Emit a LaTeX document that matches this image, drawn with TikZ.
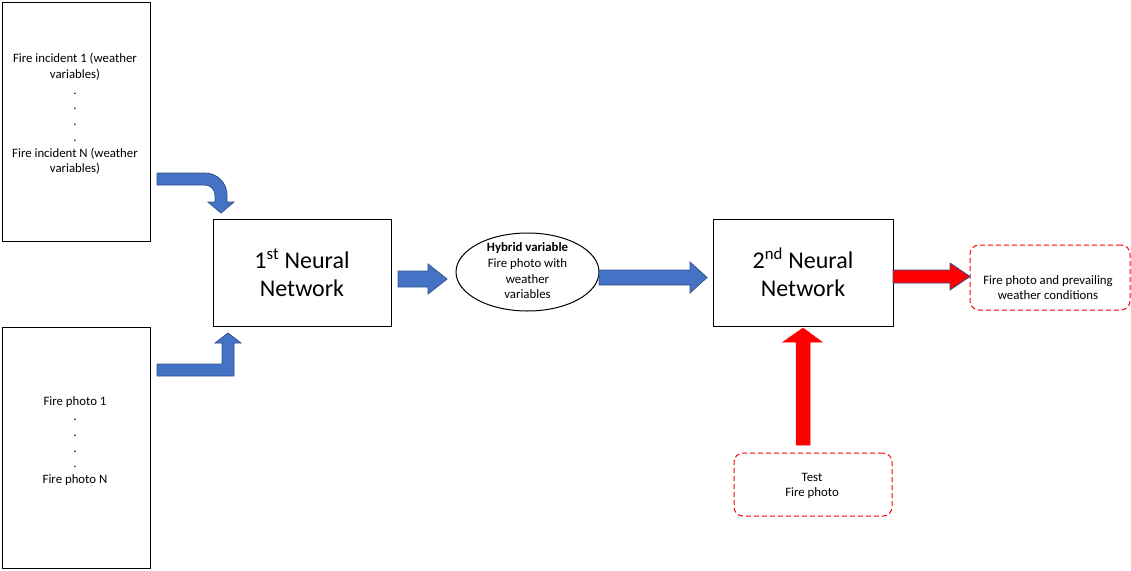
\documentclass[tikz,border=0pt]{standalone}
\usepackage{fontspec}
\setmainfont{Carlito}
\usetikzlibrary{shapes.geometric}
\definecolor{arrblue}{HTML}{4472C4}
\definecolor{arrline}{HTML}{2F528F}
\tikzset{
  plainbox/.style={draw=black, line width=1pt, fill=white, inner sep=0pt},
  smalltext/.style={font=\fontsize{12.8}{15.7}\selectfont, align=center, text=black, inner sep=0pt},
  bigtext/.style={font=\fontsize{24}{28}\selectfont, align=center},
  dashbox/.style={draw=red, line width=1pt, dash pattern=on 5pt off 3pt, rounded corners=9pt},
  bluearrow/.style={fill=arrblue, draw=arrline, line width=0.8pt},
  redarrow/.style={fill=red, draw=arrline, line width=0.8pt},
  redarrowplain/.style={fill=red, draw=red, line width=0.5pt},
}
\begin{document}
\begin{tikzpicture}[x=1pt,y=-1pt]
\useasboundingbox (0,0) rectangle (1131,570);
% input boxes
\node[plainbox, minimum width=148pt, minimum height=239pt] (inA) at (76,121.5) {};
\node[smalltext] (txA) at (75,114) {Fire incident 1 (weather\\variables)\\.\\.\\.\\.\\Fire incident N (weather\\variables)};
\node[plainbox, minimum width=148pt, minimum height=241pt] (inB) at (76,447.5) {};
\node[smalltext] (txB) at (75,441) {Fire photo 1\\.\\.\\.\\.\\Fire photo N};
% neural networks
\node[plainbox, minimum width=178pt, minimum height=107pt, bigtext] (nn1) at (302,272.5) {1\textsuperscript{st} Neural\\Network};
\node[plainbox, minimum width=180pt, minimum height=107pt, bigtext] (nn2) at (803,272.5) {2\textsuperscript{nd} Neural\\Network};
% ellipse
\node[draw=black, line width=1pt, ellipse, minimum width=143pt, minimum height=78pt, inner sep=0pt] (hyb) at (527.5,272) {};
\node[smalltext] (hybt) at (527.5,271) {\textbf{Hybrid variable}\\Fire photo with\\weather\\variables};
% output and test
\node[dashbox, minimum width=160pt, minimum height=65pt] (outp) at (1050,277.5) {};
\node[smalltext] (outt) at (1048,287.5) {Fire photo and prevailing\\weather conditions};
\node[dashbox, minimum width=158pt, minimum height=63pt] (test) at (813,484.5) {};
\node[smalltext] (testt) at (812,486) {Test\\Fire photo};
% bent arrow top
\draw[bluearrow] (157,173) -- (205,173) arc[start angle=-90, end angle=0, radius=22] -- (227,202) -- (234,202) -- (221,213) -- (208,202) -- (215,202) -- (215,195) arc[start angle=0, end angle=-90, radius=10] -- (157,185) -- cycle;
% bent arrow bottom
\draw[bluearrow] (157,376) -- (234,376) -- (234,343) -- (241,343) -- (228,333) -- (215,343) -- (222,343) -- (222,364) -- (157,364) -- cycle;
% straight arrows
\draw[bluearrow] (398,271) -- (428,271) -- (428,264) -- (447,279) -- (428,294) -- (428,287) -- (398,287) -- cycle;
\draw[bluearrow] (599,270) -- (690,270) -- (690,262) -- (707,277.5) -- (690,293) -- (690,285) -- (599,285) -- cycle;
\draw[redarrow] (893,270) -- (950,270) -- (950,263) -- (970,276.5) -- (950,290) -- (950,283) -- (893,283) -- cycle;
\draw[redarrowplain] (796,445) -- (796,342) -- (783,342) -- (803,328) -- (822,342) -- (810,342) -- (810,445) -- cycle;
\end{tikzpicture}
\end{document}
